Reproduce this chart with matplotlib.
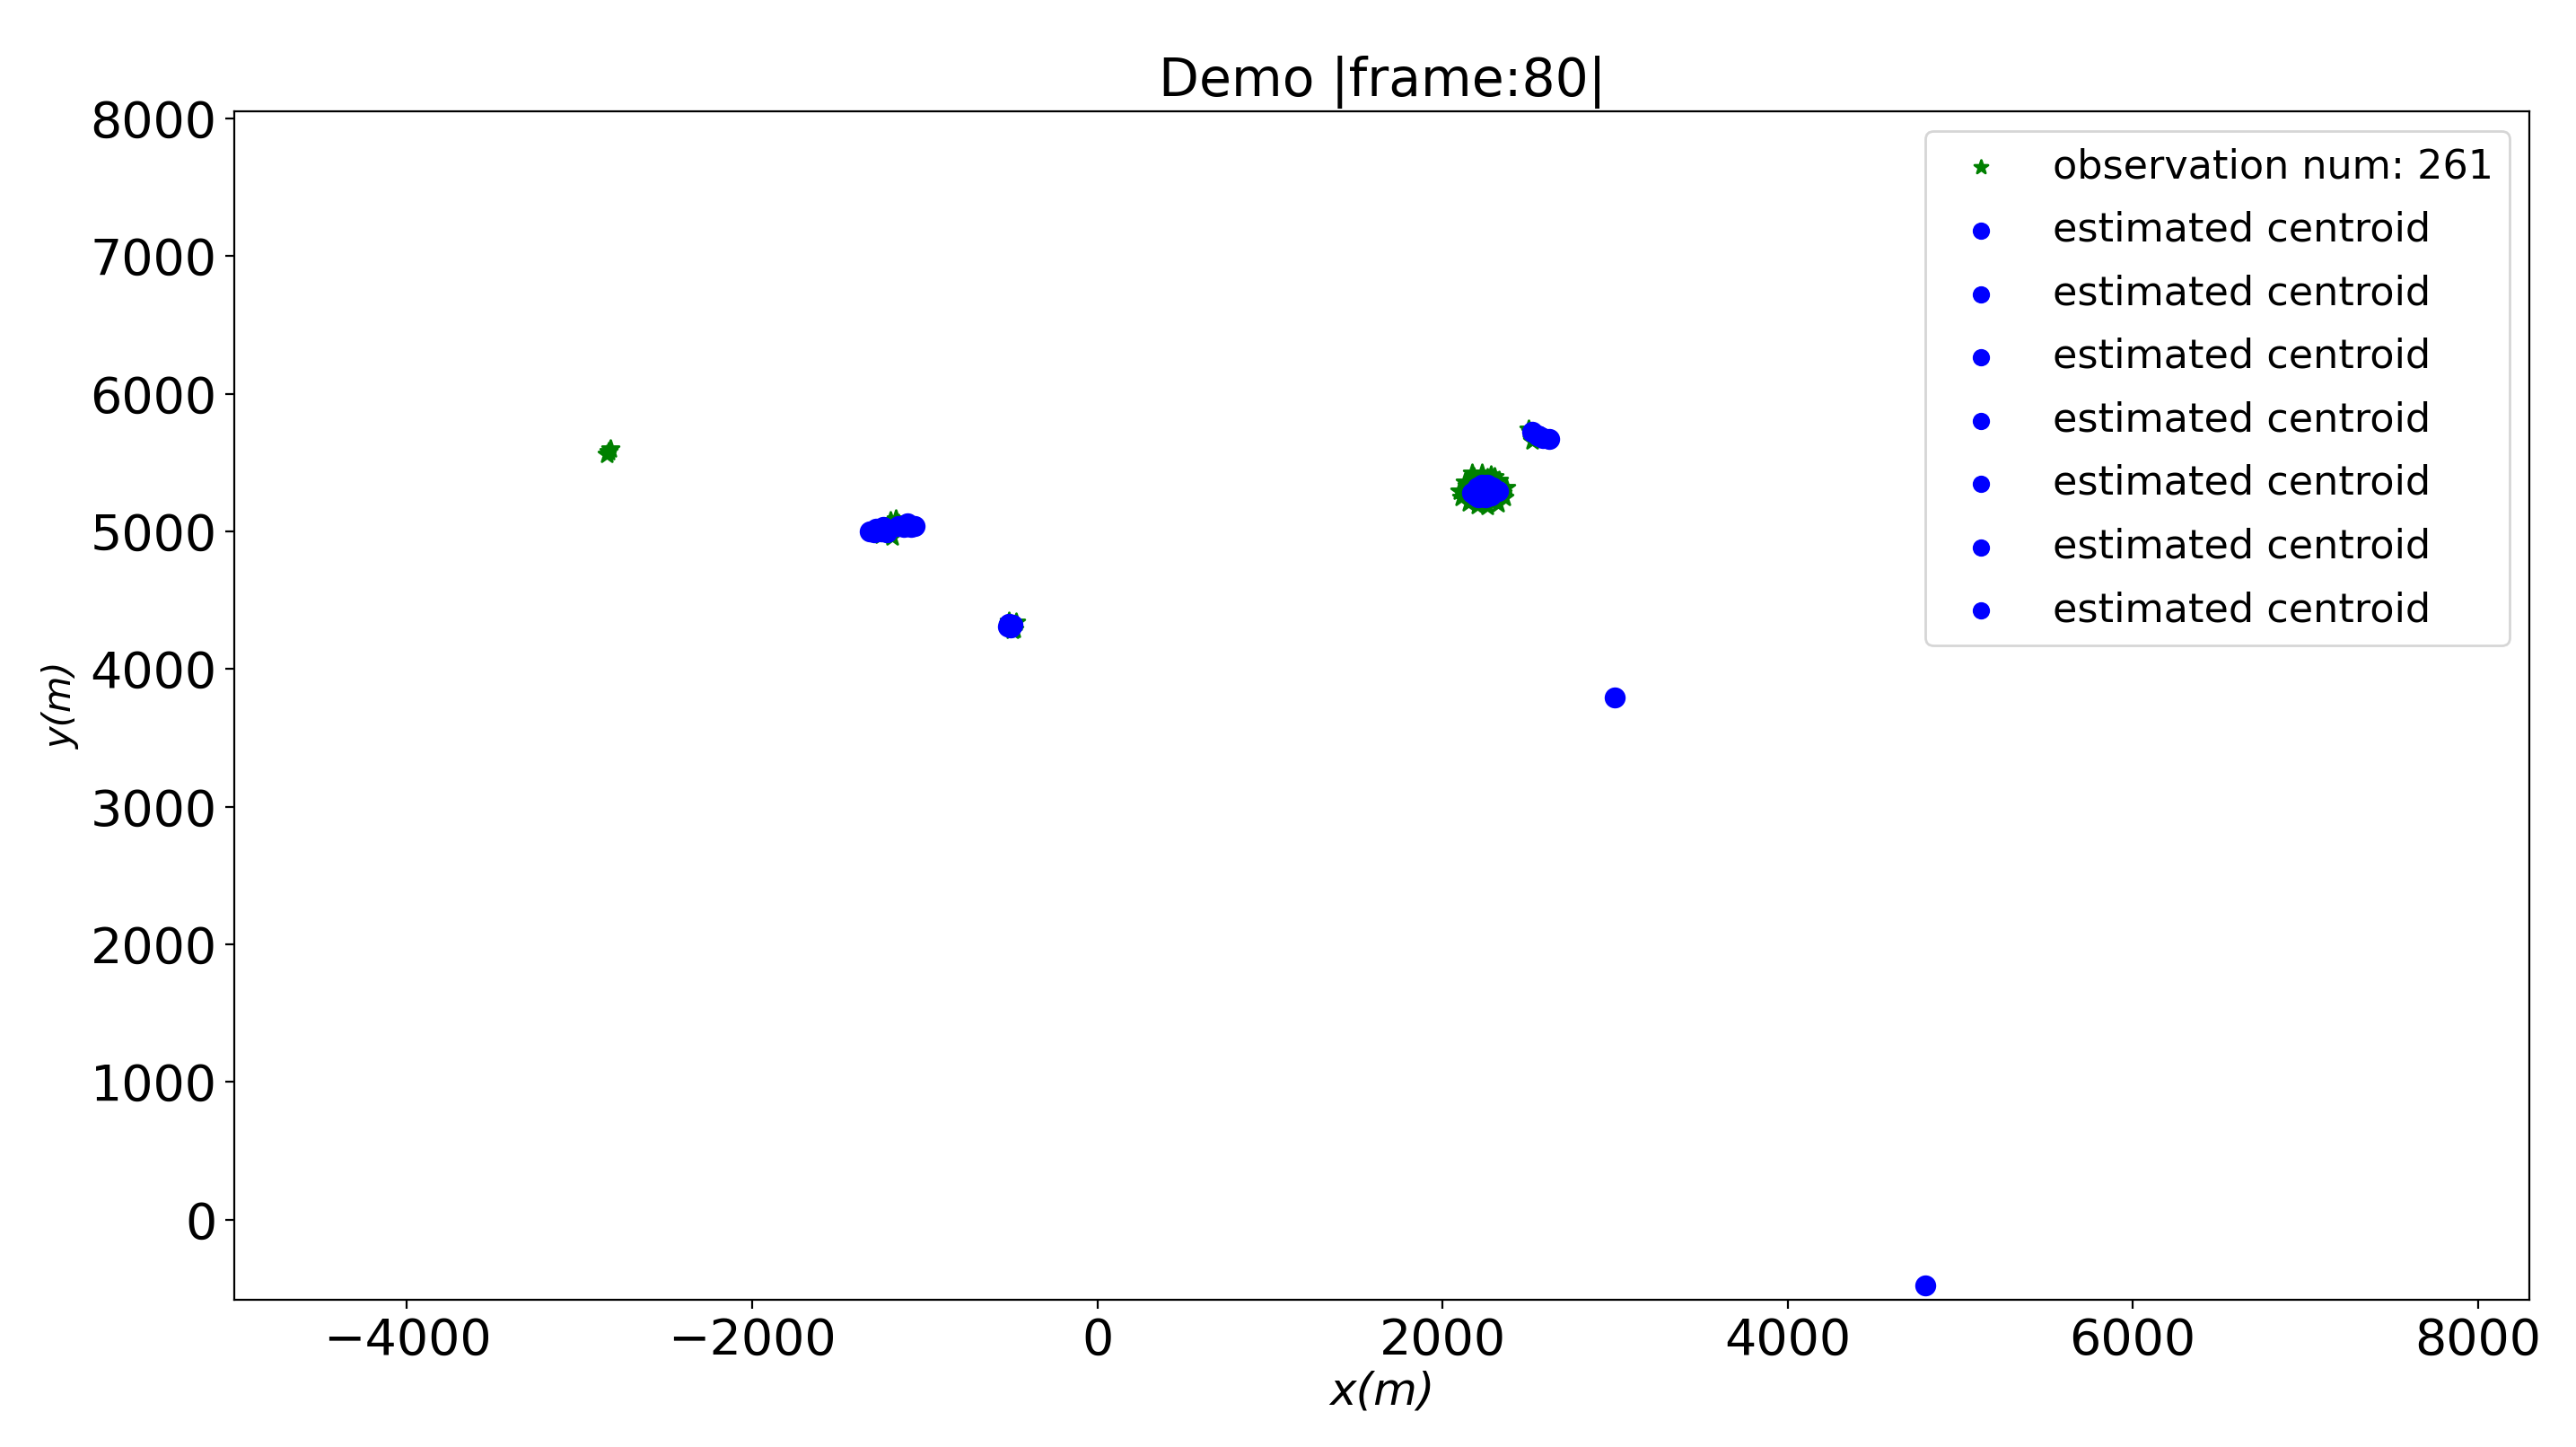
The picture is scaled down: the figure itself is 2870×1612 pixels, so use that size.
import matplotlib
matplotlib.use('Agg')
import matplotlib.pyplot as plt

obs_x = [-2830, -2840, -2820, -1250, -1200, -1170, -1220, -1150, -1260, -1190,
         -510, -480, -520, -490, -470,
         2100, 2130, 2180, 2230, 2280, 2330, 2370, 2360, 2320, 2260, 2200, 2150,
         2110, 2140, 2200, 2260, 2310, 2350, 2250, 2170, 2300,
         2500, 2520, 2540, 2560, 2510]
obs_y = [5580, 5560, 5600, 4970, 5080, 5090, 4990, 5060, 5010, 4960,
         4350, 4290, 4320, 4280, 4340,
         5290, 5360, 5400, 5420, 5410, 5370, 5320, 5250, 5200, 5180, 5190, 5210,
         5250, 5330, 5380, 5390, 5230, 5280, 5200, 5420, 5400,
         5740, 5660, 5700, 5680, 5720]

# estimated centroids, seven series
cent = [
    ([-1320, -1280, -1250, -1220, -1290, -1240], [5000, 5020, 5000, 4990, 4990, 5030]),
    ([-1150, -1100, -1060, -1120, -1080], [5040, 5060, 5040, 5030, 5030]),
    ([-510, -490, -500, -520], [4330, 4320, 4300, 4310]),
    ([2170, 2200, 2230, 2260, 2290, 2320, 2250, 2210, 2280, 2190, 2300, 2240],
     [5280, 5320, 5340, 5340, 5320, 5290, 5250, 5250, 5260, 5260, 5300, 5300]),
    ([2520, 2550, 2580, 2620, 2560], [5720, 5700, 5680, 5670, 5690]),
    ([3000], [3790]),
    ([4800], [-480]),
]

fig = plt.figure(figsize=(14.35, 8.06), dpi=200)
ax = fig.add_axes([0.091, 0.102, 0.891, 0.821])
ax.scatter(obs_x, obs_y, marker='*', c='green', s=50, label='observation num: 261')
for cx, cy in cent:
    ax.scatter(cx, cy, c='blue', s=55, label='estimated centroid')
ax.set_xlim(-5000, 8300)
ax.set_ylim(-580, 8050)
ax.set_xticks(range(-4000, 8001, 2000))
ax.set_yticks(range(0, 8001, 1000))
ax.tick_params(labelsize=20)
ax.set_xlabel('x(m)', fontsize=18, style='italic', labelpad=2)
ax.set_ylabel('y(m)', fontsize=15, style='italic')
ax.set_title('Demo |frame:80|', fontsize=21)
ax.legend(loc='upper right', fontsize=16, labelspacing=0.62, markerscale=0.8)
fig.savefig('out.png')
